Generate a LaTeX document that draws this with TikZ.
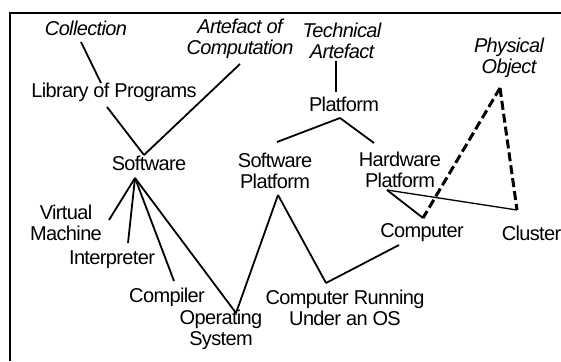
\documentclass[tikz,border=0pt]{standalone}
\usepackage{fontspec}
\setmainfont{Liberation Sans}
\newfontfamily\diagfont[LetterSpace=-3.2]{Liberation Sans}
\usepackage{tikz}
\usetikzlibrary{positioning}

\begin{document}
\begin{tikzpicture}[
    x=1pt, y=-1pt,
    concept/.style={inner sep=0pt, align=center, font=\diagfont\fontsize{20}{21}\selectfont},
    abstract/.style={concept, font=\diagfont\fontsize{20}{21}\selectfont\itshape},
    link/.style={line width=1.8pt},
    thinlink/.style={line width=1.3pt},
    physlink/.style={line width=3pt, dash pattern=on 9pt off 4pt}
]
    \useasboundingbox (0,0) rectangle (561,361);
    % Frame
    \draw[line width=2pt] (561,13) -| (10,361);

    % Top level concepts
    \node[abstract] (coll) at (86,28) {Collection};
    \node[abstract] (aoc) at (240,38.5) {Artefact of\\Computation};
    \node[abstract] (tech) at (342,40.5) {Technical\\Artefact};
    \node[abstract] (phys) at (509,58) {Physical\\Object};

    % Concepts
    \node[concept] (lib) at (114,92) {Library of Programs};
    \node[concept] (plat) at (344,104) {Platform};
    \node[concept] (sw) at (149,163) {Software};
    \node[concept] (swp) at (275,170.5) {Software\\Platform};
    \node[concept] (hwp) at (400,170) {Hardware\\Platform};
    \node[concept] (vm) at (66,223) {Virtual\\Machine};
    \node[concept] (interp) at (112,260) {Interpreter};
    \node[concept] (comp) at (167,297) {Compiler};
    \node[concept] (os) at (221,330) {Operating\\System};
    \node[concept] (cru) at (345,308) {Computer Running\\Under an OS};
    \node[concept] (computer) at (422,233) {Computer};
    \node[concept] (cluster) at (531.5,233) {Cluster};

    % Links
    \draw[link] ([shift={(-5,14)}]coll.center) -- ([shift={(-13,-9)}]lib.center);
    \draw[link] ([shift={(0,25.5)}]aoc.center) -- ([shift={(-5,-8)}]sw.center);
    \draw[link] ([shift={(-7,15)}]lib.center) -- ([shift={(-5,-8)}]sw.center);
    \draw[link] ([shift={(-6,20.5)}]tech.center) -- ([shift={(-8,-12)}]plat.center);
    \draw[link] ([shift={(-4,14)}]plat.center) -- ([shift={(2,-28.5)}]swp.center);
    \draw[link] ([shift={(-4,14)}]plat.center) -- ([shift={(-26,-27)}]hwp.center);
    \draw[link] ([shift={(-14,15)}]sw.center) -- ([shift={(43,-3)}]vm.center);
    \draw[link] ([shift={(-14,15)}]sw.center) -- ([shift={(16,-17)}]interp.center);
    \draw[link] ([shift={(-14,15)}]sw.center) -- ([shift={(7,-16)}]comp.center);
    \draw[link] ([shift={(-14,15)}]sw.center) -- ([shift={(15,-17)}]os.center);
    \draw[link] ([shift={(3,24.5)}]swp.center) -- ([shift={(15,-17)}]os.center);
    \draw[link] ([shift={(3,24.5)}]swp.center) -- ([shift={(-19,-25)}]cru.center);
    \draw[link] ([shift={(-19,-25)}]cru.center) -- ([shift={(-23,12)}]computer.center);
    \draw[link] ([shift={(-13,20)}]hwp.center) -- ([shift={(1,-15)}]computer.center);
    \draw[thinlink] ([shift={(-13,20)}]hwp.center) -- ([shift={(-14.5,-23)}]cluster.center);

    % Physical links
    \draw[physlink] ([shift={(-9,30)}]phys.center) -- ([shift={(1,-15)}]computer.center);
    \draw[physlink] ([shift={(-9,30)}]phys.center) -- ([shift={(-14.5,-23)}]cluster.center);
\end{tikzpicture}
\end{document}
